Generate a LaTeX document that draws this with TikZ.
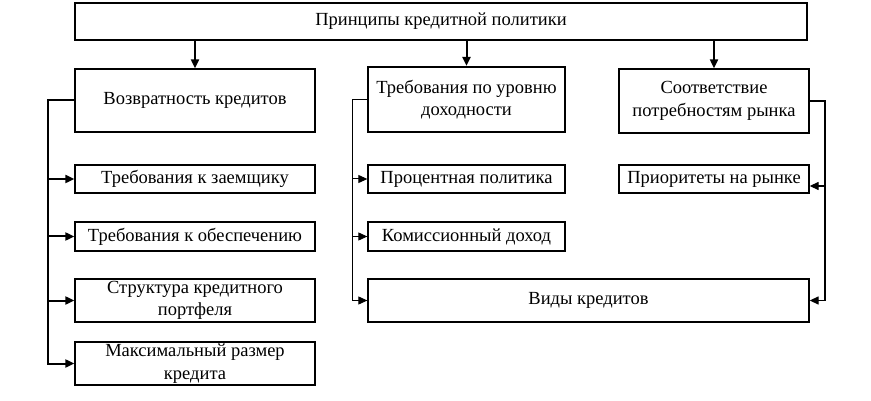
\documentclass[tikz,border=0pt]{standalone}
\usepackage{fontspec}
\setmainfont{Liberation Serif}
\usetikzlibrary{arrows.meta}

\begin{document}
\begin{tikzpicture}[x=1pt,y=-1pt,
  box/.style={draw,line width=1.3pt,align=center,inner sep=2pt,font=\fontsize{18.5}{22.5}\selectfont},
  arr/.style={-{Triangle[length=9pt,width=8pt]}},
  bus/.style={line width=#1},
  bus/.default=1.3pt]
\useasboundingbox (0,0) rectangle (871,401);
% boxes
\node [box,minimum width=732pt,minimum height=37pt] (top) at (441,21.5) {Принципы кредитной политики};
\node [box,minimum width=240pt,minimum height=63pt] (vozv) at (195,100.5) {Возвратность кредитов};
\node [box,line width=2.2pt,minimum width=197pt,minimum height=65pt] (dokh) at (466.5,99.5) {Требования по уровню\\доходности};
\node [box,minimum width=190pt,minimum height=64pt] (sootv) at (714,101) {Соответствие\\потребностям рынка};
\node [box,minimum width=240pt,minimum height=28pt] (zaem) at (195,179) {Требования к заемщику};
\node [box,minimum width=197pt,minimum height=28pt] (proc) at (466.5,179) {Процентная политика};
\node [box,minimum width=190pt,minimum height=28pt] (prior) at (714,179) {Приоритеты на рынке};
\node [box,minimum width=240pt,minimum height=29pt] (obesp) at (195,236.5) {Требования к обеспечению};
\node [box,minimum width=197pt,minimum height=29pt] (komis) at (466.5,236.5) {Комиссионный доход};
\node [box,minimum width=240pt,minimum height=43pt] (strukt) at (195,300.5) {Структура кредитного\\портфеля};
\node [box,minimum width=441pt,minimum height=43pt] (vidy) at (588.5,300.5) {Виды кредитов};
\node [box,minimum width=240pt,minimum height=41pt] (maks) at (195,363.5) {Максимальный размер\\кредита};
% from the top
\foreach \n in {vozv,dokh,sootv}
  \draw [arr,line width=2pt] (\n.north |- top.south) -- (\n.north);
% left column
\coordinate (lbus) at (48,100.5);
\draw [arr,bus=2pt] (vozv.west) -- (lbus) |- (maks.west);
\foreach \n in {zaem,obesp,strukt}
  \draw [arr,line width=2pt] (lbus |- \n.west) -- (\n.west);
% middle column
\coordinate (mbus) at (352,99.5);
\draw [arr,bus=1pt] (dokh.west) -- (mbus) |- (vidy.west);
\foreach \n in {proc,komis}
  \draw [arr,line width=1pt] (mbus |- \n.west) -- (\n.west);
% right column
\coordinate (rbus) at (825,101);
\draw [arr,bus] (sootv.east) -- (rbus) |- (vidy.east);
\draw [arr,bus] (rbus |- 0,186) -- ([yshift=-7pt]prior.east);
\end{tikzpicture}
\end{document}
